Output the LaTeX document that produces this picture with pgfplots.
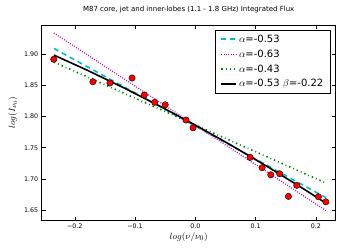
\documentclass[border=0pt]{standalone}
\usepackage{fontspec}
\setmainfont{DejaVu Sans}
\usepackage{pgfplots}
\pgfplotsset{compat=1.18}
\definecolor{mplc}{rgb}{0,0.75,0.75}
\definecolor{mplm}{rgb}{0.75,0,0.75}
\definecolor{mplg}{rgb}{0,0.5,0}
\begin{document}
\begin{tikzpicture}[x=1pt,y=1pt]
\begin{axis}[
  at={(41.7pt,29.3pt)}, anchor=south west,
  scale only axis, width=294pt, height=195.7pt,
  xmin=-0.255, xmax=0.233, ymin=1.633, ymax=1.947,
  xtick={-0.2,-0.1,0,0.1,0.2},
  xticklabels={−0.2,−0.1,0.0,0.1,0.2},
  ytick={1.65,1.70,1.75,1.80,1.85,1.90},
  yticklabels={1.65,1.70,1.75,1.80,1.85,1.90},
  tick align=inside, major tick length=4pt,
  tick style={black, line width=0.6pt},
  ticklabel style={font=\fontsize{6.3}{7}\selectfont},
  xtick pos=both, ytick pos=both,
  axis line style={line width=0.9pt},
  title={M87 core, jet and inner-lobes (1.1 - 1.8 GHz) Integrated Flux},
  title style={font=\fontsize{7}{8}\selectfont, at={(axis description cs:0.5,1)}, anchor=south, yshift=2.5pt},
  xlabel={$log(\nu/\nu_0)$},
  ylabel={$log(I_{\nu_0})$},
  label style={font=\fontsize{9.5}{11}\selectfont},
  xlabel style={at={(axis description cs:0.5,-0.083)}, anchor=center},
  ylabel style={at={(axis description cs:-0.098,0.552)}, anchor=center},
  legend style={at={(rel axis cs:0.983,0.975)}, anchor=north east, draw=black, line width=0.8pt,
    font=\fontsize{10}{12}\selectfont, row sep=2pt, inner xsep=5pt, inner ysep=2.5pt},
  legend cell align=left,
  legend image code/.code={\draw[#1] (0pt,0pt) -- (15pt,0pt);},
]
\addplot[mplc, line width=1.6pt, dash pattern=on 5pt off 4pt] coordinates {(-0.2347,1.9094) (0.2166,1.6700)};
\addlegendentry{$\alpha$=-0.53}
\addplot[mplm, line width=1.3pt, dash pattern=on 0.8pt off 1.6pt] coordinates {(-0.2347,1.9340) (0.2166,1.6495)};
\addlegendentry{$\alpha$=-0.63}
\addplot[mplg, line width=1.6pt, dash pattern=on 1.5pt off 3pt on 0.8pt off 3pt] coordinates {(-0.2347,1.8875) (0.2166,1.6935)};
\addlegendentry{$\alpha$=-0.43}
\addplot[black, line width=1.6pt] coordinates {(-0.2347,1.8987) (-0.18,1.8747) (-0.12,1.8468) (-0.06,1.8174) (0,1.7864) (0.06,1.7538) (0.12,1.7196) (0.18,1.6839) (0.2166,1.6613)};
\addlegendentry{$\alpha$=-0.53 $\beta$=-0.22}
\addplot[only marks, mark=*, mark size=3.2pt, mark options={fill=red, draw=black, line width=0.4pt}, forget plot] coordinates {
(-0.235,1.892) (-0.170,1.856) (-0.1417,1.854) (-0.105,1.862) (-0.0847,1.8347)
(-0.0674,1.823) (-0.050,1.819) (-0.0154,1.7945) (-0.0038,1.782) (0.0909,1.7346)
(0.1108,1.718) (0.1252,1.7067) (0.140,1.7083) (0.1545,1.672) (0.1684,1.6897)
(0.2043,1.6714) (0.2166,1.6633)};
\end{axis}
\path[draw=none] (0pt,0pt) rectangle (344pt,250pt);
\end{tikzpicture}
\end{document}
